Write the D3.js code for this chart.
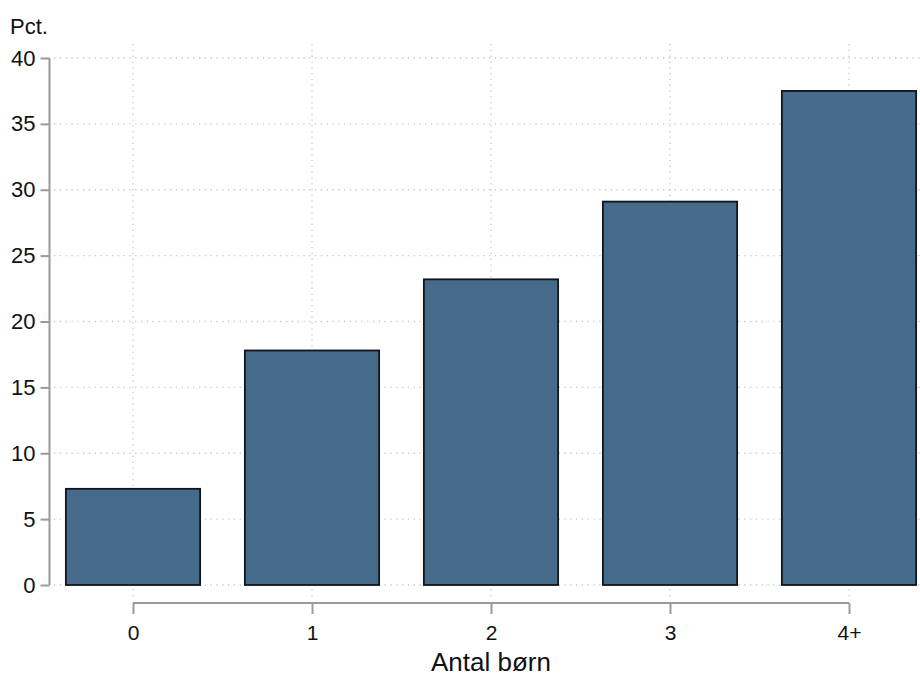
<!DOCTYPE html>
<html><head><meta charset="utf-8">
<script src="https://cdn.jsdelivr.net/npm/d3@7"></script>
<style>body{margin:0;background:#fff}svg{display:block}text{font-family:"Liberation Sans",Arial,sans-serif;fill:#111}</style>
</head><body>
<svg id="c" width="920" height="679"></svg>
<script>
const categories = ["0","1","2","3","4+"];
const values = [7.3, 17.8, 23.2, 29.1, 37.5];
const yTicks = [0,5,10,15,20,25,30,35,40];
const yLabel = "Pct.";
const xLabel = "Antal børn";

const svg = d3.select("#c");
const x = d3.scalePoint().domain(categories).range([133, 849]);
const step = x.step();
const bw = step * 0.75;
const y = d3.scaleLinear().domain([0, 40]).range([585, 58]);

// gridlines
const grid = svg.append("g").attr("stroke", "#c8c8c8").attr("stroke-width", 1.3).attr("stroke-dasharray", "1.3,4.5");
grid.selectAll("line.h").data(yTicks).join("line")
  .attr("x1", 54).attr("x2", 920).attr("y1", d => y(d)).attr("y2", d => y(d));
grid.selectAll("line.v").data(categories).join("line")
  .attr("x1", d => x(d)).attr("x2", d => x(d)).attr("y1", 44).attr("y2", 598);

// bars
svg.append("g").selectAll("rect").data(values).join("rect")
  .attr("x", (d, i) => x(categories[i]) - bw / 2)
  .attr("width", bw)
  .attr("y", d => y(d))
  .attr("height", d => y(0) - y(d))
  .attr("fill", "#466a89").attr("stroke", "#10151c").attr("stroke-width", 1.8);

// y axis
const ya = svg.append("g").attr("transform", "translate(49.5,0)")
  .call(d3.axisLeft(y).tickValues(yTicks).tickSize(9).tickPadding(5));
ya.select(".domain").attr("stroke", "#9a9a9a").attr("stroke-width", 2).attr("d", `M0,${y(0)}V${y(40)}`);
ya.selectAll(".tick line").attr("stroke", "#9a9a9a").attr("stroke-width", 2);
ya.selectAll(".tick text").attr("font-size", 22).attr("fill", "#111").attr("font-family", "Liberation Sans, Arial, sans-serif");

// x axis
const xa = svg.append("g").attr("transform", "translate(0,603)")
  .call(d3.axisBottom(x).tickSize(11).tickPadding(11));
xa.select(".domain").attr("stroke", "#9a9a9a").attr("stroke-width", 2).attr("d", `M${x(categories[0])},0H${x(categories[4])}`);
xa.selectAll(".tick line").attr("stroke", "#9a9a9a").attr("stroke-width", 2);
xa.selectAll(".tick text").attr("font-size", 21).attr("fill", "#111").attr("font-family", "Liberation Sans, Arial, sans-serif");

svg.append("text").attr("x", 10).attr("y", 34).attr("font-size", 22).text(yLabel);
svg.append("text").attr("x", x("2")).attr("y", 671).attr("text-anchor", "middle").attr("font-size", 26).text(xLabel);
</script>
</body></html>
